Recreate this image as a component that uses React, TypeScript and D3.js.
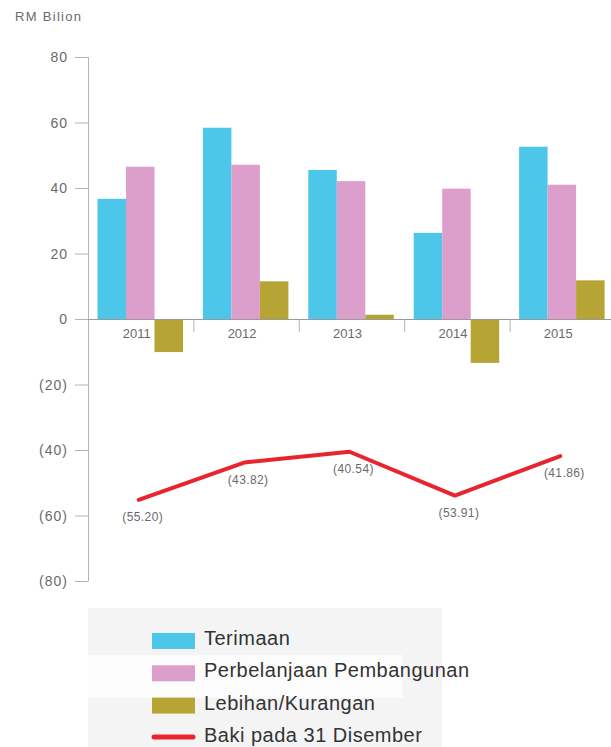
import React from 'react';
import * as d3 from 'd3';

const years = ['2011', '2012', '2013', '2014', '2015'];
const terimaan = [36.7, 58.4, 45.5, 26.3, 52.6];
const perbelanjaan = [46.5, 47.1, 42.1, 39.8, 41.0];
const lebihan = [-10.1, 11.5, 1.3, -13.4, 11.8];
const baki = [-55.2, -43.82, -40.54, -53.91, -41.86];
const yTicks = [80, 60, 40, 20, 0, -20, -40, -60, -80];
const seriesNames = ['Terimaan', 'Perbelanjaan Pembangunan', 'Lebihan/Kurangan', 'Baki pada 31 Disember'];
const barKeys = ['terimaan', 'perbelanjaan', 'lebihan'];
const colors = ['#4cc7ea', '#dc9fcc', '#b6a434', '#e8242f'];

const W = 611;
const H = 747;

export default function App() {
  const y = d3.scaleLinear().domain([-80, 80]).range([581, 57]);
  const x = d3.scaleBand<string>().domain(years).range([88, 615]).paddingInner(0).paddingOuter(0);
  const bw = x.bandwidth();
  const xs = d3.scaleBand<string>().domain(barKeys).range([9.5, 95]).padding(0);
  const barData = [terimaan, perbelanjaan, lebihan];
  const axisColor = '#b4b4b4';
  const textColor = '#6a6a6a';
  const font = 'Liberation Sans, Arial, sans-serif';

  const line = d3
    .line<number>()
    .x((_, i) => (x(years[i]) as number) + bw / 2 - 2)
    .y((d) => y(d));

  const fmt = (v: number) => (v < 0 ? `(${Math.abs(v).toFixed(2)})` : v.toFixed(2));
  const fmtTick = (v: number) => (v < 0 ? `(${Math.abs(v)})` : `${v}`);

  return (
    <svg width={W} height={H} style={{ position: 'absolute', left: 0, top: 0, background: '#fff' }} fontFamily={font}>
      <text x={15} y={21} fontSize={13} letterSpacing={1.3} fill={textColor}>RM Bilion</text>

      {/* y axis */}
      <line x1={88.5} x2={88.5} y1={y(80)} y2={y(-80)} stroke={axisColor} strokeWidth={1} />
      {yTicks.map((t) => (
        <g key={t}>
          <line x1={75} x2={88.5} y1={y(t) + 0.5} y2={y(t) + 0.5} stroke={axisColor} strokeWidth={1} />
          <text x={68} y={y(t) + 5} textAnchor="end" fontSize={14} letterSpacing={1} fill={textColor}>
            {fmtTick(t)}
          </text>
        </g>
      ))}

      {/* bars */}
      {barData.map((series, si) =>
        series.map((v, i) => (
          <rect
            key={`${si}-${i}`}
            x={(x(years[i]) as number) + (xs(barKeys[si]) as number)}
            width={xs.bandwidth()}
            y={Math.min(y(v), y(0))}
            height={Math.abs(y(v) - y(0))}
            fill={colors[si]}
          />
        ))
      )}

      {/* x axis */}
      <line x1={88} x2={W} y1={y(0) + 0.5} y2={y(0) + 0.5} stroke="#999" strokeWidth={1} />
      {years.slice(1).map((yr) => (
        <line key={yr} x1={(x(yr) as number) + 0.5} x2={(x(yr) as number) + 0.5} y1={y(0)} y2={y(0) + 13} stroke={axisColor} strokeWidth={1} />
      ))}
      {years.map((yr) => (
        <text key={yr} x={(x(yr) as number) + bw / 2 - 4} y={y(0) + 19} textAnchor="middle" fontSize={13} fill={textColor}>
          {yr}
        </text>
      ))}

      {/* line */}
      <path d={line(baki) || ''} fill="none" stroke={colors[3]} strokeWidth={4} strokeLinejoin="round" strokeLinecap="round" />
      {baki.map((v, i) => (
        <text key={i} x={(x(years[i]) as number) + bw / 2 + 2} y={y(v) + 21} textAnchor="middle" fontSize={12} letterSpacing={0.4} fill={textColor}>
          {fmt(v)}
        </text>
      ))}

      {/* legend */}
      <rect x={88} y={608} width={354} height={H - 608} fill="#f4f4f4" />
      <rect x={88} y={655} width={315} height={43} fill="#fcfcfc" />
      {seriesNames.map((name, i) => {
        const ly = 641 + i * 32.3;
        return (
          <g key={name}>
            {i < 3 ? (
              <rect x={152} y={ly - 8} width={43} height={16} fill={colors[i]} />
            ) : (
              <line x1={154} x2={193} y1={ly - 1} y2={ly - 1} stroke={colors[3]} strokeWidth={5} strokeLinecap="round" />
            )}
            <text x={204} y={ly + 4} fontSize={20} letterSpacing={0.5} fill="#333">
              {name}
            </text>
          </g>
        );
      })}
    </svg>
  );
}
